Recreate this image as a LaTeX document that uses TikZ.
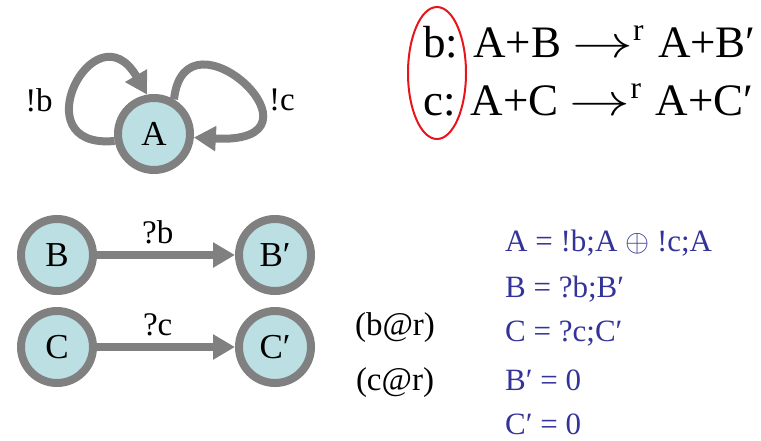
\documentclass[tikz,border=0pt]{standalone}
\usepackage{fix-cm}
\usepackage{graphicx}
\usepackage{fontspec}
\setmainfont{Liberation Serif}
\usepackage{tikz}
\usetikzlibrary{arrows.meta,positioning,shapes.geometric}
\definecolor{nodefill}{HTML}{BBDFE2}
\definecolor{ringgray}{HTML}{808080}
\definecolor{procblue}{HTML}{333399}
\definecolor{markred}{HTML}{E8141B}
\newcommand{\ratearrow}{$\mathrel{\scalebox{1.35}[1]{$\rightarrow$}}^{\mathrm{r}}$\hspace{14pt}}

\begin{document}
\begin{tikzpicture}[
    x=1pt,y=-1pt,
    state/.style={circle,draw=ringgray,line width=8pt,fill=nodefill,minimum size=72pt,inner sep=0pt,font=\fontsize{35}{42}\selectfont},
    trans/.style={-{Triangle[length=22pt,width=24pt]},line width=8pt,draw=ringgray},
    lbl/.style={font=\fontsize{33}{40}\selectfont},
    eqn/.style={font=\fontsize{45}{54}\selectfont,anchor=west,inner sep=0pt},
    defn/.style={font=\fontsize{31}{37}\selectfont,text=procblue,anchor=west,inner sep=0pt}
]
    \useasboundingbox (0,0) rectangle (761,440);

    % the sender with its two choices
    \node[state] (A) at (154,134) {A};
    \node[lbl] (outb) at (39,100) {!b};
    \node[lbl] (outc) at (282,100) {!c};
    \draw[trans] (A.190) .. controls (20,150) and (95,5) .. (A.100);
    \draw[trans] (A.60) .. controls (185,0) and (340,145) .. (A.355);

    % the two receivers
    \node[state] (B) at (57,255) {B};
    \node[state] (Bp) at (275,255) {B′};
    \node[state] (C) at (57,347) {C};
    \node[state] (Cp) at (275,347) {C′};
    \draw[trans] (B) -- node[lbl,pos=0.44,above=4pt] (inb) {?b} (Bp);
    \draw[trans] (C) -- node[lbl,pos=0.44,above=4pt] (inc) {?c} (Cp);

    % reactions
    \node[eqn] (eqb) at (423,42) {b: A+B \ratearrow A+B′};
    \node[eqn] (eqc) at (423,100) {c: A+C \ratearrow A+C′};
    \draw[markred,line width=2pt] (437,73) ellipse [x radius=29pt,y radius=66pt];

    \node[lbl] (rateb) at (395,328) {(b@r)};
    \node[lbl] (ratec) at (395,383) {(c@r)};

    % process definitions
    \node[defn] (defA) at (505,243) {A = !b;A $\oplus$ !c;A};
    \node[defn] (defB) at (505,289) {B = ?b;B′};
    \node[defn] (defC) at (505,334) {C = ?c;C′};
    \node[defn] (defBp) at (505,380) {B′ = 0};
    \node[defn] (defCp) at (505,424) {C′ = 0};
\end{tikzpicture}
\end{document}
